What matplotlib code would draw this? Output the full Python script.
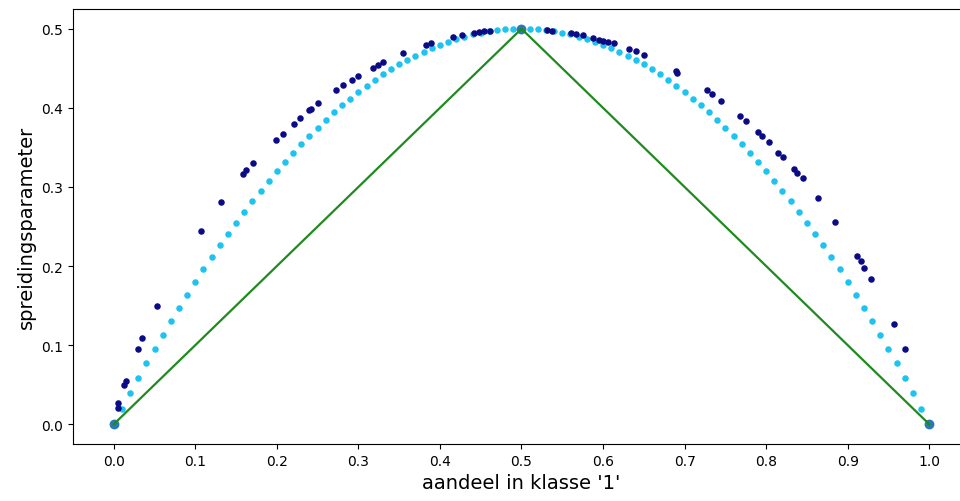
import matplotlib
matplotlib.use("Agg")
import matplotlib.pyplot as plt

# Light blue series (evenly spaced proportions)
gini_x = [0.00, 0.01, 0.02, 0.03, 0.04, 0.05, 0.06, 0.07, 0.08, 0.09,
          0.10, 0.11, 0.12, 0.13, 0.14, 0.15, 0.16, 0.17, 0.18, 0.19,
          0.20, 0.21, 0.22, 0.23, 0.24, 0.25, 0.26, 0.27, 0.28, 0.29,
          0.30, 0.31, 0.32, 0.33, 0.34, 0.35, 0.36, 0.37, 0.38, 0.39,
          0.40, 0.41, 0.42, 0.43, 0.44, 0.45, 0.46, 0.47, 0.48, 0.49,
          0.50, 0.51, 0.52, 0.53, 0.54, 0.55, 0.56, 0.57, 0.58, 0.59,
          0.60, 0.61, 0.62, 0.63, 0.64, 0.65, 0.66, 0.67, 0.68, 0.69,
          0.70, 0.71, 0.72, 0.73, 0.74, 0.75, 0.76, 0.77, 0.78, 0.79,
          0.80, 0.81, 0.82, 0.83, 0.84, 0.85, 0.86, 0.87, 0.88, 0.89,
          0.90, 0.91, 0.92, 0.93, 0.94, 0.95, 0.96, 0.97, 0.98, 0.99, 1.00]
gini_y = [0.0, 0.0198, 0.0392, 0.0582, 0.0768, 0.095, 0.1128, 0.1302, 0.1472, 0.1638,
          0.18, 0.1958, 0.2112, 0.2262, 0.2408, 0.255, 0.2688, 0.2822, 0.2952, 0.3078,
          0.32, 0.3318, 0.3432, 0.3542, 0.3648, 0.375, 0.3848, 0.3942, 0.4032, 0.4118,
          0.42, 0.4278, 0.4352, 0.4422, 0.4488, 0.455, 0.4608, 0.4662, 0.4712, 0.4758,
          0.48, 0.4838, 0.4872, 0.4902, 0.4928, 0.495, 0.4968, 0.4982, 0.4992, 0.4998,
          0.5, 0.4998, 0.4992, 0.4982, 0.4968, 0.495, 0.4928, 0.4902, 0.4872, 0.4838,
          0.48, 0.4758, 0.4712, 0.4662, 0.4608, 0.455, 0.4488, 0.4422, 0.4352, 0.4278,
          0.42, 0.4118, 0.4032, 0.3942, 0.3848, 0.375, 0.3648, 0.3542, 0.3432, 0.3318,
          0.32, 0.3078, 0.2952, 0.2822, 0.2688, 0.255, 0.2408, 0.2262, 0.2112, 0.1958,
          0.18, 0.1638, 0.1472, 0.1302, 0.1128, 0.095, 0.0768, 0.0582, 0.0392, 0.0198, 0.0]

# Dark blue series
ent_x = [0.0049, 0.0057, 0.0131, 0.0147, 0.0299, 0.0348, 0.0528, 0.1064, 0.1317,
         0.1587, 0.1623, 0.1709, 0.199, 0.207, 0.2213, 0.2282, 0.2393, 0.2421, 0.250,
         0.2728, 0.281, 0.292, 0.2998, 0.3178, 0.3243, 0.3305, 0.3546, 0.3824, 0.3886,
         0.416, 0.4266, 0.4417, 0.4479, 0.454, 0.461, 0.5317, 0.5378, 0.5603, 0.5665,
         0.5754, 0.588, 0.595, 0.600, 0.6066, 0.6135, 0.6319, 0.640, 0.650, 0.689,
         0.691, 0.728, 0.733, 0.745, 0.7677, 0.775, 0.790, 0.7947, 0.8037, 0.815,
         0.8209, 0.8344, 0.8384, 0.8446, 0.8642, 0.8847, 0.912, 0.916, 0.920, 0.9285,
         0.957, 0.9706]
ent_y = [0.021, 0.027, 0.0495, 0.0545, 0.095, 0.109, 0.150, 0.244, 0.281,
         0.316, 0.321, 0.330, 0.360, 0.367, 0.380, 0.387, 0.397, 0.399, 0.406,
         0.423, 0.429, 0.435, 0.440, 0.450, 0.454, 0.458, 0.469, 0.480, 0.482,
         0.4895, 0.492, 0.4946, 0.496, 0.497, 0.4975, 0.4987, 0.4975, 0.4946, 0.4934,
         0.4916, 0.488, 0.486, 0.485, 0.4836, 0.4815, 0.4748, 0.4714, 0.4664, 0.446,
         0.444, 0.4223, 0.4178, 0.4084, 0.3896, 0.3833, 0.369, 0.3644, 0.3573, 0.3426,
         0.3384, 0.3224, 0.3174, 0.311, 0.2855, 0.2553, 0.2132, 0.2069, 0.1973, 0.183,
         0.1263, 0.0948]

# Misclassification line
mis_x = [0.0, 0.5, 1.0]
mis_y = [0.0, 0.5, 0.0]

xticks = [0.0, 0.1, 0.2, 0.3, 0.4, 0.5, 0.6, 0.7, 0.8, 0.9, 1.0]
yticks = [0.0, 0.1, 0.2, 0.3, 0.4, 0.5]

fig = plt.figure(figsize=(9.6, 5.02), dpi=100)
W, H = 960, 502
left, right, top, bottom = 73, 970, 10, 445
ax = fig.add_axes([left / W, (H - bottom) / H, (right - left) / W, (bottom - top) / H])

ax.scatter(gini_x, gini_y, s=22, color="#1ec3f0", linewidths=0, zorder=2)
ax.scatter(ent_x, ent_y, s=22, color="#0b0b85", linewidths=0, zorder=3)
ax.scatter(mis_x, mis_y, s=50, color="#2a78b5", linewidths=0, zorder=4)
ax.plot(mis_x, mis_y, color="#1f8a1f", linewidth=1.6, zorder=5)

ax.set_xlim(-0.05, 1.05)
ax.set_ylim(-0.025, 0.525)
ax.set_xticks(xticks)
ax.set_yticks(yticks)
ax.tick_params(labelsize=10)
ax.set_xlabel("aandeel in klasse '1'", fontsize=14)
ax.set_ylabel("spreidingsparameter", fontsize=14)

fig.savefig("out.png", dpi=100)
